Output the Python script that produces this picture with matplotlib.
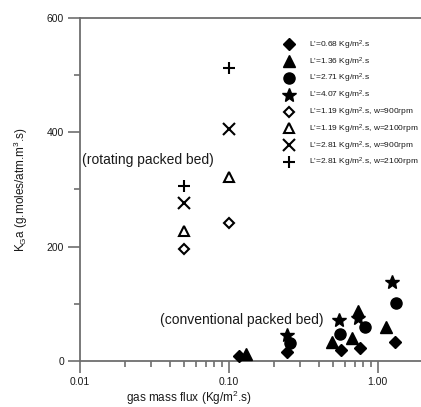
import matplotlib

matplotlib.use("Agg")
import matplotlib.pyplot as plt
from matplotlib.ticker import FixedLocator, FormatStrFormatter, LogLocator, NullFormatter

# conventional packed bed, filled markers
flux_068 = [0.117, 0.244, 0.562, 0.757, 1.30]
kga_068 = [9, 15, 20, 23, 34]
flux_136 = [0.130, 0.493, 0.676, 0.738, 1.14]
kga_136 = [12, 33, 40, 87, 59]
flux_271 = [0.256, 0.556, 0.82, 1.33]
kga_271 = [31, 48, 59, 102]
flux_407 = [0.244, 0.547, 0.738, 1.24]
kga_407 = [45, 72, 76, 138]

# rotating packed bed, open markers
flux_rpb = [0.05, 0.10]
kga_119_900 = [196, 241]
kga_119_2100 = [228, 322]
kga_281_900 = [277, 406]
kga_281_2100 = [306, 512]

labels = [
    "L'=0.68 Kg/m$^2$.s",
    "L'=1.36 Kg/m$^2$.s",
    "L'=2.71 Kg/m$^2$.s",
    "L'=4.07 Kg/m$^2$.s",
    "L'=1.19 Kg/m$^2$.s, w=900rpm",
    "L'=1.19 Kg/m$^2$.s, w=2100rpm",
    "L'=2.81 Kg/m$^2$.s, w=900rpm",
    "L'=2.81 Kg/m$^2$.s, w=2100rpm",
]

x_ticks = [0.01, 0.1, 1.0]
y_ticks = [0, 200, 400, 600]
y_minor = [100, 300, 500]

plt.rcParams["font.family"] = ["Liberation Sans", "DejaVu Sans"]
plt.rcParams["mathtext.fontset"] = "custom"
plt.rcParams["mathtext.rm"] = "Liberation Sans"
plt.rcParams["mathtext.it"] = "Liberation Sans"

spine_col = "#6e6e6e"
txt_col = "#1a1a1a"

fig = plt.figure(figsize=(4.21, 4.07), dpi=100)
ax = fig.add_axes([80 / 421, 1 - 361 / 407, 341 / 421, 343 / 407])

series = [
    (flux_068, kga_068, dict(marker="D", ms=6.5, mfc="black", mec="black")),
    (flux_136, kga_136, dict(marker="^", ms=8, mfc="black", mec="black")),
    (flux_271, kga_271, dict(marker="o", ms=8, mfc="black", mec="black")),
    (flux_407, kga_407, dict(marker="*", ms=10, mfc="black", mec="black")),
    (flux_rpb, kga_119_900, dict(marker="D", ms=5.5, mfc="white", mec="black", mew=1.5)),
    (flux_rpb, kga_119_2100, dict(marker="^", ms=7, mfc="white", mec="black", mew=1.5)),
    (flux_rpb, kga_281_900, dict(marker="x", ms=8, mec="black", mew=1.5)),
    (flux_rpb, kga_281_2100, dict(marker="+", ms=9, mec="black", mew=1.5)),
]

for (xs, ys, style), lab in zip(series, labels):
    ax.plot(xs, ys, linestyle="none", label=lab, clip_on=False, zorder=3, **style)

ax.set_xscale("log")
ax.set_xlim(0.01, 1.95)
ax.set_ylim(0, 600)

ax.xaxis.set_major_locator(FixedLocator(x_ticks))
ax.xaxis.set_major_formatter(FormatStrFormatter("%.2f"))
ax.xaxis.set_minor_locator(LogLocator(base=10, subs=range(2, 10)))
ax.xaxis.set_minor_formatter(NullFormatter())
ax.yaxis.set_major_locator(FixedLocator(y_ticks))
ax.yaxis.set_minor_locator(FixedLocator(y_minor))

for side in ["left", "bottom", "top"]:
    ax.spines[side].set_color(spine_col)
    ax.spines[side].set_linewidth(1.3)
ax.spines["right"].set_visible(False)

ax.tick_params(which="major", direction="out", length=8.5, width=1.2,
               color=spine_col, labelsize=7.5, labelcolor=txt_col, pad=3)
ax.tick_params(which="minor", direction="out", length=4, width=1.2, color=spine_col)

ax.set_xlabel("gas mass flux (Kg/m$^2$.s)", fontsize=8.5, color=txt_col)
ax.set_ylabel("K$_G$a (g.moles/atm.m$^3$.s)", fontsize=8.5, color=txt_col)
ax.xaxis.set_label_coords(0.32, -0.08)
ax.yaxis.set_label_coords(-0.148, 0.5)

ax.text(0.0103, 352, "(rotating packed bed)", fontsize=10, color=txt_col,
        ha="left", va="center")
ax.text(0.0344, 72, "(conventional packed bed)", fontsize=10, color=txt_col,
        ha="left", va="center")

ax.legend(loc="upper left", bbox_to_anchor=(0.60, 0.94), frameon=False,
          fontsize=6, handlelength=1.0, handletextpad=1.9, labelspacing=0.42,
          borderpad=0, borderaxespad=0, markerscale=1.0, labelcolor=txt_col)

fig.savefig("out.png", dpi=100)
